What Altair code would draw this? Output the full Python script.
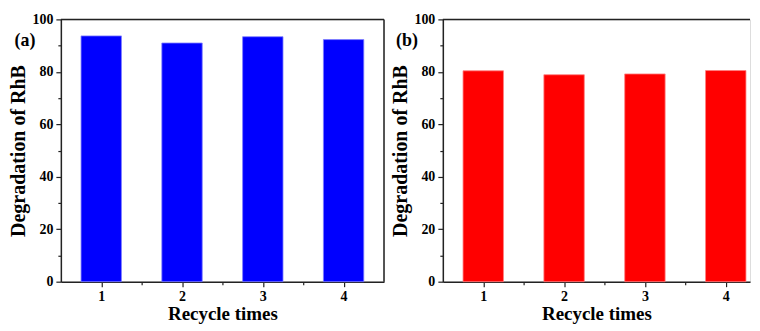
import altair as alt
import pandas as pd

cycles = [1, 2, 3, 4]
deg_a = [93.7, 91.0, 93.4, 92.3]
deg_b = [80.4, 78.9, 79.2, 80.5]
panel_labels = ["(a)", "(b)"]
y_ticks = list(range(0, 101, 10))
x_ticks = [1, 1.5, 2, 2.5, 3, 3.5, 4]

FONT = "Liberation Serif"
LINE = "#222222"
H = 263


def panel(values, color, edge, label, xmax, width, right_border):
    df = pd.DataFrame({"cycle": cycles, "deg": values})
    xaxis = alt.Axis(
        values=x_ticks,
        labelExpr="datum.value % 1 == 0 ? format(datum.value, 'd') : ''",
        tickSize={"condition": {"test": "datum.value % 1 == 0", "value": 5}, "value": 3},
        title="Recycle times",
        titleFont=FONT, titleFontSize=19, titleFontWeight="bold", titleColor="black",
        titlePadding=1,
        labelFont=FONT, labelFontSize=14, labelFontWeight="bold", labelColor="black",
        labelPadding=3,
        domainColor=LINE, domainWidth=1.5, tickColor=LINE, tickWidth=1.2,
        grid=False,
    )
    yaxis = alt.Axis(
        values=y_ticks,
        labelExpr="datum.value % 20 == 0 ? datum.label : ''",
        tickSize={"condition": {"test": "datum.value % 20 == 0", "value": 5}, "value": 3},
        title="Degradation of RhB",
        titleFont=FONT, titleFontSize=20, titleFontWeight="bold", titleColor="black",
        titlePadding=3,
        labelFont=FONT, labelFontSize=14, labelFontWeight="bold", labelColor="black",
        labelPadding=3,
        domainColor=LINE, domainWidth=1.5, tickColor=LINE, tickWidth=1.2,
        grid=False,
    )
    bars = (
        alt.Chart(df)
        .transform_calculate(x0="datum.cycle - 0.25", x1="datum.cycle + 0.25", base="0")
        .mark_bar(color=color, stroke=edge, strokeWidth=0.8)
        .encode(
            x=alt.X("x0:Q", scale=alt.Scale(domain=[0.5, xmax], nice=False, zero=False), axis=xaxis),
            x2="x1:Q",
            y=alt.Y("deg:Q", scale=alt.Scale(domain=[0, 100], nice=False), axis=yaxis),
            y2="base:Q",
        )
    )
    lab = (
        alt.Chart(pd.DataFrame({"t": [label]}))
        .mark_text(font=FONT, fontSize=18, fontWeight="bold", color="black", align="center", baseline="middle")
        .encode(text="t:N", x=alt.value(-36), y=alt.value(22))
    )
    top = (
        alt.Chart(pd.DataFrame({"t": [label]}))
        .mark_rule(color=LINE, strokeWidth=1.5)
        .encode(x=alt.value(0), x2=alt.value(width), y=alt.value(0))
    )
    layers = [bars, lab, top]
    if right_border:
        rb = (
            alt.Chart(pd.DataFrame({"t": [label]}))
            .mark_rule(color=LINE, strokeWidth=1.5)
            .encode(x=alt.value(width), y=alt.value(0), y2=alt.value(H))
        )
        layers.append(rb)
    return alt.layer(*layers).properties(width=width, height=H)


left = panel(deg_a, "#0000FF", "#7f7fff", panel_labels[0], 4.5, 324, True)
right = panel(deg_b, "#FF0000", "#ff8080", panel_labels[1], 4.30, 308, False)

chart = (
    alt.hconcat(left, right, spacing=4)
    .properties(padding={"left": 0, "top": 3, "right": 0, "bottom": 0})
    .configure_view(stroke=None)
    .configure(background="white")
)

chart.save("out.html", embed_options={"renderer": "svg", "actions": False})
